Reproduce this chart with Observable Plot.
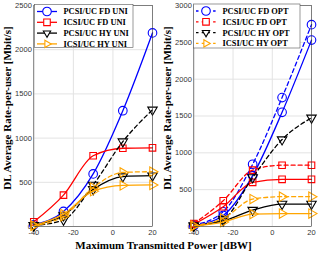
<!DOCTYPE html>
<html><head><meta charset="utf-8">
<script src="https://cdn.jsdelivr.net/npm/d3@7"></script>
<script src="https://cdn.jsdelivr.net/npm/@observablehq/plot@0.6"></script>
<style>
body{margin:0;background:#fff}
#wrap{position:relative;width:321px;height:254px;background:#fff;overflow:hidden}
.lab{position:absolute;font-family:"Liberation Serif","Times New Roman",serif;font-weight:bold;font-size:11px;line-height:12px;color:#000;text-align:center;white-space:nowrap}
</style></head>
<body>
<div id="wrap">
<div id="left" style="position:absolute;left:0;top:0"></div>
<div id="right" style="position:absolute;left:160px;top:0"></div>
<div class="lab" style="left:-103px;top:102px;width:220px;transform:rotate(-90deg)">DL Average Rate-per-user [Mbit/s]</div>
<div class="lab" style="left:57px;top:102px;width:220px;transform:rotate(-90deg)">DL Average Rate-per-user [Mbit/s]</div>
<div class="lab" style="left:3px;top:239px;width:321px">Maximum Transmitted Power [dBW]</div>
</div>
<script>
const power = [-40, -25, -10, 5, 20];
const xTicks = [-40, -20, 0, 20];
const yTicksLeft = [0, 500, 1000, 1500, 2000, 2500];
const yTicksRight = [0, 500, 1000, 1500, 2000, 2500, 3000];

// Left panel (UNI, solid) and extra dashed curves
const leftPcsiFdUni = [19, 170, 595, 1310, 2190];
const leftIcsiFdUni = [53, 355, 800, 885, 890];
const leftPcsiHyUni = [15, 125, 420, 565, 575];
const leftIcsiHyUni = [10, 140, 400, 465, 470];
const leftPcsiHyDash = [10, 75, 470, 960, 1320];
const leftIcsiHyDash = [10, 115, 440, 612, 620];

// Right panel (OPT, dashed) and solid curves
const rightPcsiFdOpt = [20, 200, 845, 1750, 2740];
const rightIcsiFdOpt = [40, 350, 765, 832, 832];
const rightPcsiHyOpt = [10, 100, 665, 1180, 1475];
const rightIcsiHyOpt = [10, 110, 372, 405, 405];
const rightPcsiFdSolid = [10, 150, 690, 1550, 2530];
const rightIcsiFdSolid = [30, 268, 600, 640, 640];
const rightPcsiHySolid = [10, 78, 223, 305, 305];
const rightIcsiHySolid = [5, 60, 168, 175, 175];

const legendLeft = ["PCSI/UC FD UNI", "ICSI/UC FD UNI", "PCSI/UC HY UNI", "ICSI/UC HY UNI"];
const legendRight = ["PCSI/UC FD OPT", "ICSI/UC FD OPT", "PCSI/UC HY OPT", "ICSI/UC HY OPT"];

const colors = ["#0000ff", "#ff0000", "#000000", "#ffa500"];
const symbols = ["circle", "square", "triangle", "triangle"];
const rotates = [0, 0, 180, 90];
const radii = [4.3, 3.7, 3.5, 3.5];
const d3sym = {circle: d3.symbolCircle, square: d3.symbolSquare, triangle: d3.symbolTriangle2};
const DASH = "4,3";

function rows(vals) { return power.map((x, i) => ({x, y: vals[i]})); }

function seriesMarks(vals, k, dashed) {
  const data = rows(vals);
  return [
    Plot.line(data, {x: "x", y: "y", stroke: colors[k], strokeWidth: 1.3, curve: "monotone-x", strokeDasharray: dashed ? DASH : null}),
    Plot.dot(data, {x: "x", y: "y", stroke: colors[k], fill: "none", strokeWidth: 1.1, symbol: symbols[k], r: radii[k], rotate: rotates[k]})
  ];
}

function makePlot(width, marginRight, yDomain, yTicks, series) {
  return Plot.plot({
    width, height: 254,
    marginLeft: 33.3, marginRight, marginTop: 5, marginBottom: 28,
    style: {fontFamily: "'Liberation Sans', Arial, sans-serif", fontSize: "7.5px", color: "#333", background: "transparent", overflow: "visible"},
    x: {domain: [-40, 20]},
    y: {domain: yDomain},
    marks: [
      Plot.gridX(xTicks, {stroke: "#e3e3e3", strokeOpacity: 1}),
      Plot.gridY(yTicks, {stroke: "#e3e3e3", strokeOpacity: 1}),
      Plot.axisX({ticks: xTicks, tickSize: 0, tickPadding: 3.5, label: null, tickFormat: d => String(d)}),
      Plot.axisY({ticks: yTicks, tickSize: 0, tickPadding: 2, label: null, tickFormat: d => String(d)}),
      ...series.flatMap(s => seriesMarks(s.vals, s.k, s.dashed)),
      Plot.frame({stroke: "#3a3a3a", strokeWidth: 0.6})
    ]
  });
}

function addLegend(svg, labels, dashed, box) {
  const g = d3.select(svg).append("g").attr("text-anchor", "start");
  g.append("rect").attr("x", box.x).attr("y", box.y).attr("width", box.w).attr("height", box.h)
    .attr("fill", "#fff").attr("stroke", "#555").attr("stroke-width", 0.6);
  labels.forEach((lab, i) => {
    const cy = box.y + 7 + i * 10.8;
    g.append("line").attr("x1", box.x + 2.5).attr("x2", box.x + 22.5).attr("y1", cy).attr("y2", cy)
      .attr("stroke", colors[i]).attr("stroke-width", 1.3).attr("stroke-dasharray", dashed ? "2.5,3.2" : null);
    g.append("path").attr("d", d3.symbol(d3sym[symbols[i]], Math.PI * radii[i] * radii[i])())
      .attr("transform", `translate(${box.x + 12.5},${cy}) rotate(${rotates[i]})`)
      .attr("fill", "#fff").attr("stroke", colors[i]).attr("stroke-width", 1.1);
    g.append("text").attr("x", box.x + box.tx).attr("y", cy).attr("dy", "0.35em")
      .attr("text-anchor", "start")
      .attr("font-family", "'Liberation Serif','Times New Roman',serif").attr("font-weight", "bold")
      .attr("font-size", "8.4px").attr("fill", "#000").text(lab);
  });
}

const left = makePlot(160, 8, [0, 2500], yTicksLeft, [
  {vals: leftPcsiFdUni, k: 0, dashed: false},
  {vals: leftIcsiFdUni, k: 1, dashed: false},
  {vals: leftPcsiHyDash, k: 2, dashed: true},
  {vals: leftPcsiHyUni, k: 2, dashed: false},
  {vals: leftIcsiHyDash, k: 3, dashed: true},
  {vals: leftIcsiHyUni, k: 3, dashed: false}
]);
addLegend(left, legendLeft, false, {x: 34.5, y: 4.5, w: 98.5, h: 43, tx: 29});
document.getElementById("left").appendChild(left);

const right = makePlot(161, 10, [0, 3000], yTicksRight, [
  {vals: rightPcsiFdOpt, k: 0, dashed: true},
  {vals: rightPcsiFdSolid, k: 0, dashed: false},
  {vals: rightIcsiFdOpt, k: 1, dashed: true},
  {vals: rightIcsiFdSolid, k: 1, dashed: false},
  {vals: rightPcsiHyOpt, k: 2, dashed: true},
  {vals: rightPcsiHySolid, k: 2, dashed: false},
  {vals: rightIcsiHyOpt, k: 3, dashed: true},
  {vals: rightIcsiHySolid, k: 3, dashed: false}
]);
addLegend(right, legendRight, true, {x: 33.5, y: 4, w: 106.5, h: 44, tx: 29});
document.getElementById("right").appendChild(right);
</script>
</body></html>
